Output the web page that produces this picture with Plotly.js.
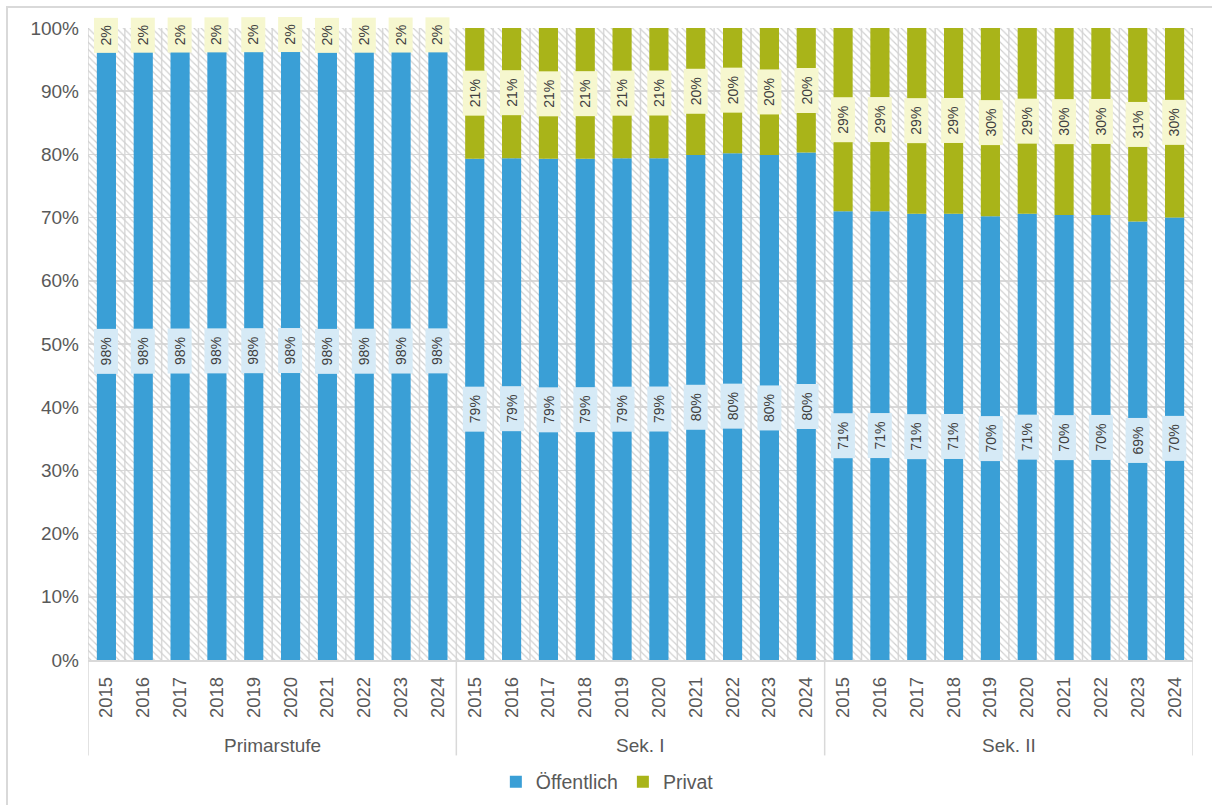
<!DOCTYPE html>
<html>
<head>
<meta charset="utf-8">
<script src="https://cdn.plot.ly/plotly-3.0.1.min.js"></script>
<style>html,body{margin:0;padding:0;background:#fff;}#chart{width:1212px;height:805px;}</style>
</head>
<body>
<div id="chart"></div>
<script>
const groups = ["Primarstufe", "Sek. I", "Sek. II"];
const years = ["2015","2016","2017","2018","2019","2020","2021","2022","2023","2024"];
const oeffPrimar = [97.8, 97.8, 97.8, 97.8, 97.8, 97.8, 97.8, 97.8, 97.8, 97.8];
const privPrimar = [2.2, 2.2, 2.2, 2.2, 2.2, 2.2, 2.2, 2.2, 2.2, 2.2];
const oeffSek1 = [79.3, 79.4, 79.3, 79.3, 79.4, 79.4, 79.9, 80.2, 79.9, 80.3];
const privSek1 = [20.7, 20.6, 20.7, 20.7, 20.6, 20.6, 20.1, 19.8, 20.1, 19.7];
const oeffSek2 = [71.0, 71.0, 70.6, 70.6, 70.2, 70.6, 70.4, 70.4, 69.4, 70.0];
const privSek2 = [29.0, 29.0, 29.4, 29.4, 29.8, 29.4, 29.6, 29.6, 30.6, 30.0];

const oeff = [].concat(oeffPrimar, oeffSek1, oeffSek2);
const priv = [].concat(privPrimar, privSek1, privSek2);
const xs = oeff.map((_, i) => i);
const tickText = [].concat(years, years, years);

const blue = "#3a9fd6";
const olive = "#a9b419";
const font = "Liberation Sans, Arial, sans-serif";

const bg = {
  type: "bar", x: xs, y: xs.map(() => 100), width: 1,
  marker: {color: "rgba(0,0,0,0)", line: {width: 0},
    pattern: {shape: "\\", fgcolor: "#d0d0d0", bgcolor: "rgba(0,0,0,0)", size: 5, solidity: 0.24, fillmode: "replace"}},
  showlegend: false, hoverinfo: "skip"
};
const tOeff = {type: "bar", name: "Öffentlich", x: xs, y: oeff, width: 0.52, marker: {color: blue}};
const tPriv = {type: "bar", name: "Privat", x: xs, y: priv, base: oeff, width: 0.52, marker: {color: olive}};

const shapes = [];
for (let i = 0; i <= xs.length; i++) {
  shapes.push({type: "line", xref: "x", yref: "y", x0: i - 0.5, x1: i - 0.5, y0: 0, y1: 100,
    line: {color: "#d9d9d9", width: 1.5}, layer: "below"});
}
for (let g = 0; g <= groups.length; g++) {
  const xv = g * years.length - 0.5;
  shapes.push({type: "line", xref: "x", yref: "paper", x0: xv, x1: xv, y0: 0, y1: -0.151,
    line: {color: "#d9d9d9", width: 1.5}});
}
shapes.push({type: "rect", xref: "paper", yref: "paper", x0: -0.0733, x1: 1.03, y0: -0.25, y1: 1.0332,
  line: {color: "#d9d9d9", width: 2}, fillcolor: "rgba(0,0,0,0)"});

const annotations = [];
function lab(x, y, v, bgc) {
  const t = Math.round(v) + "%";
  annotations.push({x: x, y: y, xref: "x", yref: "y", text: t, showarrow: false, textangle: -90,
    font: {family: font, size: 14, color: "#404040"}, bgcolor: bgc, borderpad: 1,
    width: t.length === 2 ? 32 : 42, height: 21, align: "center", valign: "middle"});
}
xs.forEach(i => {
  lab(i, oeff[i] / 2, oeff[i], "#d6eaf6");
  lab(i, oeff[i] + priv[i] / 2, priv[i], "#f6f7cf");
});
groups.forEach((g, k) => {
  annotations.push({x: k * years.length + (years.length - 1) / 2, y: -0.1345, xref: "x", yref: "paper",
    yanchor: "middle", text: g, showarrow: false, font: {family: font, size: 19, color: "#595959"}});
});

const layout = {
  width: 1212, height: 805,
  margin: {l: 88, r: 19, t: 28, b: 145, autoexpand: false},
  paper_bgcolor: "#ffffff", plot_bgcolor: "#ffffff",
  barmode: "overlay",
  font: {family: font, color: "#595959"},
  xaxis: {type: "linear", range: [-0.5, xs.length - 0.5], tickmode: "array", tickvals: xs, ticktext: tickText,
    tickangle: -90, showgrid: false, zeroline: false, showline: true, linecolor: "#d9d9d9", linewidth: 1.5,
    ticks: "", tickfont: {size: 18.5, color: "#595959"}, ticklabelstandoff: 8, automargin: false, fixedrange: true},
  yaxis: {range: [0, 100], dtick: 10, ticksuffix: "%", showgrid: true, gridcolor: "#d9d9d9", gridwidth: 1.5,
    zeroline: false, showline: false, ticks: "", tickfont: {size: 19, color: "#595959"}, ticklabelstandoff: 8,
    automargin: false},
  showlegend: true,
  legend: {orientation: "h", x: 0.47, xanchor: "center", y: -0.193, yanchor: "middle",
    font: {size: 19.5, color: "#595959"}, traceorder: "normal"},
  shapes: shapes,
  annotations: annotations
};

Plotly.newPlot("chart", [bg, tOeff, tPriv], layout, {displayModeBar: false, staticPlot: true});
</script>
</body>
</html>
